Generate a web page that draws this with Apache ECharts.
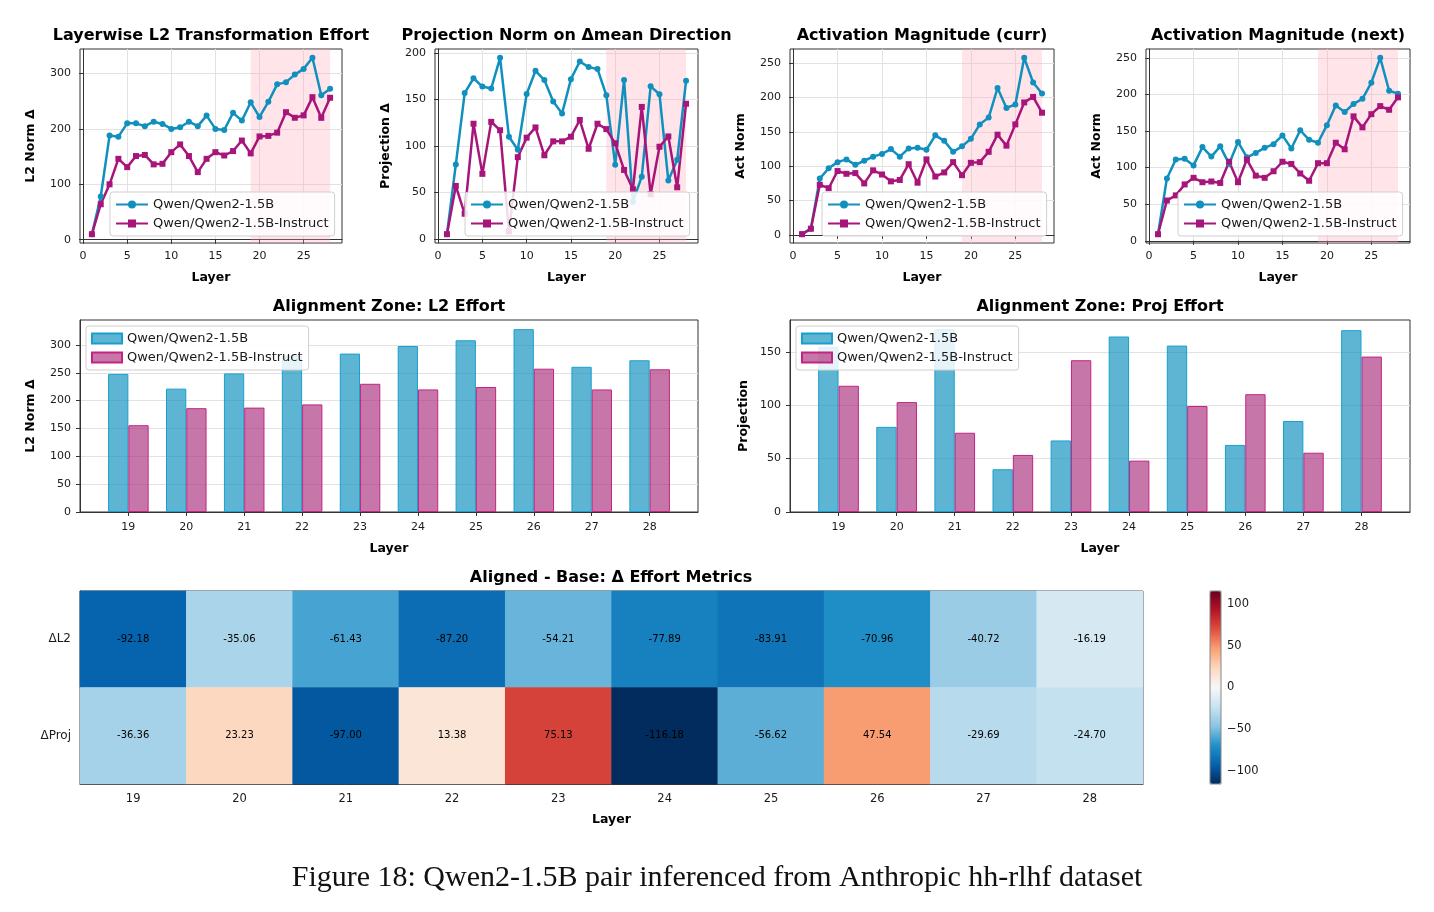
<!DOCTYPE html>
<html lang="en">
<head>
<meta charset="utf-8">
<title>Qwen2-1.5B effort metrics</title>
<script src="https://cdn.jsdelivr.net/npm/echarts@6/dist/echarts.min.js"></script>
<style>
  html, body { margin: 0; padding: 0; background: #fff; }
  #wrap { position: relative; width: 1434px; height: 912px; }
  .row { position: absolute; left: 0; width: 1434px; }
</style>
</head>
<body>
<div id="wrap">
  <div id="lines" class="row" style="top:0;height:290px"></div>
  <div id="bars" class="row" style="top:290px;height:270px"></div>
  <div id="heat" class="row" style="top:560px;height:352px"></div>
</div>
<script>
// ---- data ----
var layers = [1, 2, 3, 4, 5, 6, 7, 8, 9, 10, 11, 12, 13, 14, 15, 16, 17, 18, 19, 20, 21, 22, 23, 24, 25, 26, 27, 28];

var baseL2 = [10, 78, 188, 186, 210, 210, 205, 213, 209, 200, 203, 213, 205, 224, 200, 198, 229, 215, 248.0, 221.5, 248.8, 280.4, 284.4, 298.0, 308.3, 328.3, 260.7, 272.4];
var instL2 = [10, 64, 100, 146, 131, 151, 153, 136, 137, 158, 172, 151, 122, 146, 158, 152, 160, 179, 155.8, 186.4, 187.4, 193.2, 230.2, 220.1, 224.4, 257.3, 220.0, 256.2];

var baseProj = [5, 80, 157, 173, 164, 162, 195, 110, 96, 156, 181, 171, 148, 135, 172, 191, 185, 183, 154.6, 79.7, 171.2, 40.0, 67.0, 164.3, 155.8, 62.8, 85.2, 170.2];
var instProj = [5, 57, 27, 124, 70, 126, 117, 8, 88, 109, 120, 90, 105, 105, 110, 128, 97, 124, 118.2, 102.9, 74.2, 53.4, 142.1, 48.1, 99.2, 110.3, 55.5, 145.5];

var baseActCurr = [1, 9, 82, 97, 106, 110, 102, 108, 114, 118, 125, 114, 126, 127, 124, 145, 137, 121, 129, 140, 161, 171, 214, 185, 190, 258, 222, 206];
var instActCurr = [1, 9, 73, 68, 93, 89, 90, 75, 94, 88, 78, 80, 103, 76, 110, 85, 91, 106, 87, 105, 106, 121, 146, 130, 161, 193, 201, 178];

var baseActNext = [9, 85, 111, 112, 103, 128, 115, 129, 105, 135, 114, 120, 127, 132, 144, 126, 151, 138, 134, 158, 185, 176, 187, 194, 216, 250, 205, 201];
var instActNext = [9, 55, 62, 77, 86, 80, 81, 79, 108, 80, 111, 89, 86, 95, 108, 105, 92, 82, 106, 106, 134, 125, 170, 155, 173, 184, 179, 196];

var zoneLayers = [19, 20, 21, 22, 23, 24, 25, 26, 27, 28];
var deltaRows = ['ΔL2', 'ΔProj'];
var deltaL2 = [-92.18, -35.06, -61.43, -87.20, -54.21, -77.89, -83.91, -70.96, -40.72, -16.19];
var deltaProj = [-36.36, 23.23, -97.00, 13.38, 75.13, -116.18, -56.62, 47.54, -29.69, -24.70];

var layerTicks = [0, 5, 10, 15, 20, 25];
var l2Ticks = [0, 100, 200, 300];
var projTicks = [0, 50, 100, 150, 200];
var actTicks = [0, 50, 100, 150, 200, 250];
var barL2Ticks = [0, 50, 100, 150, 200, 250, 300];
var barProjTicks = [0, 50, 100, 150];
var colorbarTicks = [-100, -50, 0, 50, 100];

var NAME_BASE = 'Qwen/Qwen2-1.5B';
var NAME_INST = 'Qwen/Qwen2-1.5B-Instruct';

// ---- style ----
var FONT = 'DejaVu Sans';
var BLUE = '#1190be', MAGENTA = '#a8157a';
var FRAME = '#333', GRIDLINE = '#e2e2e2', TXT = '#1a1a1a';
// diverging red-blue ramp, low -> high
var RDBU_R = ['#022b5e', '#0561ad', '#2191c9', '#8bc5e2', '#c8e3f1', '#f7f7f7',
              '#fdd8c0', '#f9a074', '#de503e', '#b41428', '#67001f'];

function padRange(lo, hi) {
  var m = (hi - lo) * 0.05;
  return [lo - m, hi + m];
}
function pairs(xs, ys) {
  return xs.map(function (x, i) { return [x, ys[i]]; });
}
function titleAt(text, cx, top) {
  return {
    text: text, left: cx, top: top, textAlign: 'center', padding: 0,
    textStyle: { fontFamily: FONT, fontSize: 16, fontWeight: 'bold', color: '#000' }
  };
}
function valueAxis(gi, range, ticks, name, isX, gap, splitShow) {
  return {
    gridIndex: gi, type: 'value', min: range[0], max: range[1],
    name: name, nameLocation: 'middle', nameGap: gap,
    nameRotate: isX ? 0 : 90,
    nameTextStyle: { fontFamily: FONT, fontSize: 12.5, fontWeight: 'bold', color: '#000' },
    axisLine: { show: true, lineStyle: { color: FRAME, width: 1 } },
    axisTick: { show: true, customValues: ticks, length: 4, lineStyle: { color: FRAME } },
    axisLabel: { customValues: ticks, fontFamily: FONT, fontSize: 11, color: TXT, margin: isX ? 8 : 9 },
    splitLine: { show: splitShow, lineStyle: { color: GRIDLINE, width: 1 } }
  };
}
function boxLegend(left, top, iconW, icon) {
  return {
    left: left, top: top, orient: 'vertical',
    data: [NAME_BASE, NAME_INST], icon: icon,
    itemWidth: iconW, itemHeight: 10, itemGap: 6,
    padding: [6, 6, 6, 5],
    borderColor: '#cfcfcf', borderWidth: 1, borderRadius: 3,
    backgroundColor: 'rgba(255,255,255,0.85)',
    textStyle: { fontFamily: FONT, fontSize: 13, color: TXT }
  };
}

// ---- row 1: four layerwise line charts ----
var panels = [
  { title: 'Layerwise L2 Transformation Effort', yName: 'L2 Norm Δ', base: baseL2, inst: instL2, ticks: l2Ticks, left: 80, width: 262, legendLeft: 110 },
  { title: 'Projection Norm on Δmean Direction', yName: 'Projection Δ', base: baseProj, inst: instProj, ticks: projTicks, left: 435, width: 263, legendLeft: 465 },
  { title: 'Activation Magnitude (curr)', yName: 'Act Norm', base: baseActCurr, inst: instActCurr, ticks: actTicks, left: 790, width: 264, legendLeft: 822 },
  { title: 'Activation Magnitude (next)', yName: 'Act Norm', base: baseActNext, inst: instActNext, ticks: actTicks, left: 1146, width: 264, legendLeft: 1178 }
];

var lineOpt = { animation: false, title: [], grid: [], xAxis: [], yAxis: [], legend: [], series: [] };
panels.forEach(function (p, i) {
  var all = p.base.concat(p.inst);
  var yr = padRange(Math.min.apply(null, all), Math.max.apply(null, all));
  var xr = padRange(layers[0], layers[layers.length - 1]);
  lineOpt.title.push(titleAt(p.title, p.left + p.width / 2, 28));
  lineOpt.grid.push({ left: p.left, top: 49, width: p.width, height: 194, show: true, borderColor: FRAME, borderWidth: 1 });
  lineOpt.xAxis.push(valueAxis(i, xr, layerTicks, 'Layer', true, 28, true));
  lineOpt.yAxis.push(valueAxis(i, yr, p.ticks, p.yName, false, 43, true));
  lineOpt.legend.push(boxLegend(p.legendLeft, 192, 32));
  lineOpt.series.push({
    name: NAME_BASE, type: 'line', xAxisIndex: i, yAxisIndex: i,
    data: pairs(layers, p.base), symbol: 'circle', symbolSize: 6,
    lineStyle: { color: BLUE, width: 2.5 }, itemStyle: { color: BLUE },
    markArea: {
      silent: true, itemStyle: { color: 'rgba(255,170,185,0.3)' },
      data: [[{ xAxis: 19 }, { xAxis: 28 }]]
    }
  });
  lineOpt.series.push({
    name: NAME_INST, type: 'line', xAxisIndex: i, yAxisIndex: i,
    data: pairs(layers, p.inst), symbol: 'rect', symbolSize: 6,
    lineStyle: { color: MAGENTA, width: 2.5 }, itemStyle: { color: MAGENTA }
  });
});
echarts.init(document.getElementById('lines')).setOption(lineOpt);

// ---- row 2: alignment zone bars ----
function zoneSlice(arr) {
  return zoneLayers.map(function (l) { return arr[layers.indexOf(l)]; });
}
var barPanels = [
  { title: 'Alignment Zone: L2 Effort', yName: 'L2 Norm Δ', base: zoneSlice(baseL2), inst: zoneSlice(instL2), ticks: barL2Ticks, left: 80, width: 618, gap: 43 },
  { title: 'Alignment Zone: Proj Effort', yName: 'Projection', base: zoneSlice(baseProj), inst: zoneSlice(instProj), ticks: barProjTicks, left: 790, width: 620, gap: 40 }
];
var barOpt = { animation: false, title: [], grid: [], xAxis: [], yAxis: [], legend: [], series: [] };
barPanels.forEach(function (p, i) {
  var top = Math.max(Math.max.apply(null, p.base), Math.max.apply(null, p.inst));
  var xr = padRange(zoneLayers[0] - 0.35, zoneLayers[zoneLayers.length - 1] + 0.35);
  var unit = p.width / (xr[1] - xr[0]);
  barOpt.title.push(titleAt(p.title, p.left + p.width / 2, 9));
  barOpt.grid.push({ left: p.left, top: 30, width: p.width, height: 194, show: true, borderColor: FRAME, borderWidth: 1 });
  var xa = valueAxis(i, xr, zoneLayers, 'Layer', true, 30, false);
  xa.axisLabel.margin = 10;
  barOpt.xAxis.push(xa);
  barOpt.yAxis.push(valueAxis(i, [0, top * 1.05], p.ticks, p.yName, false, p.gap, true));
  barOpt.legend.push(boxLegend(p.left + 6, 36, 30, 'rect'));
  barOpt.series.push({
    name: NAME_BASE, type: 'bar', xAxisIndex: i, yAxisIndex: i,
    data: pairs(zoneLayers, p.base), barWidth: 0.35 * unit, barGap: '0%',
    itemStyle: { color: 'rgba(17,144,190,0.68)', borderColor: '#17a0ce', borderWidth: 1 }
  });
  barOpt.series.push({
    name: NAME_INST, type: 'bar', xAxisIndex: i, yAxisIndex: i,
    data: pairs(zoneLayers, p.inst), barWidth: 0.35 * unit, barGap: '0%',
    itemStyle: { color: 'rgba(168,40,120,0.64)', borderColor: '#c4247f', borderWidth: 1 }
  });
});
echarts.init(document.getElementById('bars')).setOption(barOpt);

// ---- row 3: delta heatmap + colorbar + caption ----
var heatData = [];
zoneLayers.forEach(function (l, i) {
  heatData.push([i, 0, deltaL2[i]]);
  heatData.push([i, 1, deltaProj[i]]);
});
var vmax = Math.max.apply(null, deltaL2.concat(deltaProj).map(Math.abs));

var heatOpt = {
  animation: false,
  title: [
    titleAt('Aligned - Base: Δ Effort Metrics', 611, 10),
    {
      text: 'Figure 18: Qwen2-1.5B pair inferenced from Anthropic hh-rlhf dataset',
      left: 717, top: 303, textAlign: 'center', padding: 0,
      textStyle: { fontFamily: 'Liberation Serif', fontSize: 30, fontWeight: 'normal', color: '#111' }
    }
  ],
  grid: [
    { left: 80, top: 31, width: 1063, height: 193, show: true, borderColor: FRAME, borderWidth: 1 },
    { left: 1210, top: 31, width: 11, height: 193, show: true, borderColor: '#888', borderWidth: 1, z: 10 }
  ],
  xAxis: [
    {
      gridIndex: 0, type: 'category', data: zoneLayers,
      name: 'Layer', nameLocation: 'middle', nameGap: 29,
      nameTextStyle: { fontFamily: FONT, fontSize: 12.5, fontWeight: 'bold', color: '#000' },
      axisLine: { lineStyle: { color: FRAME } },
      axisTick: { alignWithLabel: true, length: 4, lineStyle: { color: FRAME } },
      axisLabel: { fontFamily: FONT, fontSize: 11.5, color: TXT, margin: 9 },
      splitLine: { show: false }
    },
    { gridIndex: 1, type: 'value', show: false, min: 0, max: 1 }
  ],
  yAxis: [
    {
      gridIndex: 0, type: 'category', data: deltaRows, inverse: true,
      axisLine: { lineStyle: { color: FRAME } },
      axisTick: { alignWithLabel: true, length: 4, lineStyle: { color: FRAME } },
      axisLabel: { fontFamily: FONT, fontSize: 12, color: TXT, margin: 9 },
      splitLine: { show: false }
    },
    {
      gridIndex: 1, type: 'value', position: 'right', min: -vmax, max: vmax,
      axisLine: { show: false },
      axisTick: { show: true, customValues: colorbarTicks, length: 4, lineStyle: { color: FRAME } },
      axisLabel: {
        customValues: colorbarTicks, fontFamily: FONT, fontSize: 11.5, color: TXT, margin: 6,
        formatter: function (v) { return String(v).replace('-', '\u2212'); }
      },
      splitLine: { show: false }
    }
  ],
  visualMap: {
    type: 'continuous', min: -vmax, max: vmax, seriesIndex: 0,
    calculable: false, orient: 'vertical', left: 1210, top: 31, padding: 0,
    itemWidth: 11, itemHeight: 193, text: null, showLabel: false,
    inRange: { color: RDBU_R }
  },
  series: [{
    type: 'heatmap', xAxisIndex: 0, yAxisIndex: 0, data: heatData,
    label: {
      show: true, fontFamily: FONT, fontSize: 10, color: '#000',
      formatter: function (p) { return p.value[2].toFixed(2); }
    },
    emphasis: { disabled: true }
  }]
};
echarts.init(document.getElementById('heat')).setOption(heatOpt);
</script>
</body>
</html>
